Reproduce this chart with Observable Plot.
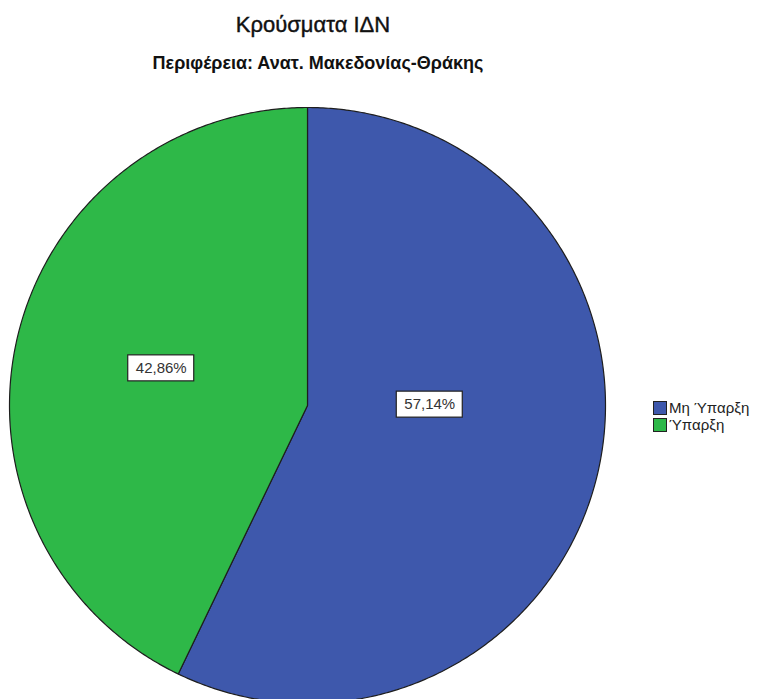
<!DOCTYPE html>
<html><head><meta charset="utf-8">
<script src="https://cdn.jsdelivr.net/npm/d3@7"></script>
<script src="https://cdn.jsdelivr.net/npm/@observablehq/plot@0.6"></script>
<style>
body{margin:0;background:#fff;font-family:"Liberation Sans",Arial,sans-serif;}
#wrap{position:relative;width:777px;height:699px;overflow:hidden;}
#chart{position:absolute;left:0;top:0;}
#title{position:absolute;left:0;width:626px;top:12px;text-align:center;font-size:22px;color:#111;z-index:2;-webkit-text-stroke:0.4px #111;}
#subtitle{position:absolute;left:0;width:636px;top:53px;text-align:center;font-size:18px;font-weight:bold;color:#111;z-index:2;}
#legend{position:absolute;left:653px;top:399px;font-size:15px;color:#222;z-index:2;}
.item{display:flex;align-items:center;height:17px;}
.sw{width:12px;height:12px;border:1px solid #222;margin-right:2px;}
</style></head><body>
<div id="wrap">
<div id="chart"></div>
<div id="title">Κρούσματα ΙΔΝ</div>
<div id="subtitle">Περιφέρεια: Ανατ. Μακεδονίας-Θράκης</div>
<div id="legend"></div>
</div>
<script>
const categories = ["Μη Ύπαρξη", "Ύπαρξη"];
const percents = [57.14, 42.86];
const labels = ["57,14%", "42,86%"];
const colors = ["#3E58AC", "#2EB848"];

// build slice outlines (angles from top, clockwise) from the values
const total = d3.sum(percents);
const points = [];
const labelData = [];
let acc = 0;
categories.forEach((c, i) => {
  const a0 = acc / total * 2 * Math.PI;
  acc += percents[i];
  const a1 = acc / total * 2 * Math.PI;
  points.push({key: c, x: 0, y: 0});
  const n = Math.max(2, Math.ceil((a1 - a0) / (Math.PI / 360)));
  for (let k = 0; k <= n; k++) {
    const a = a0 + (a1 - a0) * k / n;
    points.push({key: c, x: Math.sin(a), y: Math.cos(a)});
  }
  const am = (a0 + a1) / 2;
  labelData.push({key: c, label: labels[i], x: 0.5 * Math.sin(am), y: 0.5 * Math.cos(am)});
});

const W = 777, H = 699, cx = 307, cy = 405, R = 298;
const off = [{dx: -23, dy: -34}, {dx: -1, dy: -4}];
const box = {insetLeft: -33, insetRight: -33, insetTop: -13, insetBottom: -13, fill: "white", stroke: "#222", strokeWidth: 1.2};
const chart = Plot.plot({
  width: W, height: H,
  margin: 0,
  x: {domain: [-cx / R, (W - cx) / R], range: [0, W], axis: null},
  y: {domain: [(cy - H) / R, cy / R], range: [H, 0], axis: null},
  color: {domain: categories, range: colors},
  marks: [
    Plot.line(points, {x: "x", y: "y", z: "key", fill: "key", stroke: "#1e1e1e", strokeWidth: 1.2, curve: "linear-closed"}),
    ...categories.flatMap((c, i) => [
      Plot.rect(labelData.filter(d => d.key === c), {x1: "x", x2: "x", y1: "y", y2: "y", ...off[i], ...box}),
      Plot.text(labelData.filter(d => d.key === c), {x: "x", y: "y", text: "label", ...off[i], fontSize: 15, fill: "#333"})
    ])
  ],
  style: {fontFamily: "'Liberation Sans', Arial, sans-serif", background: "white"}
});
document.getElementById("chart").appendChild(chart);

const legend = document.getElementById("legend");
categories.forEach((c, i) => {
  const it = document.createElement("div"); it.className = "item";
  const sw = document.createElement("div"); sw.className = "sw"; sw.style.background = colors[i];
  const t = document.createElement("span"); t.textContent = c;
  it.appendChild(sw); it.appendChild(t); legend.appendChild(it);
});
</script>
</body></html>
